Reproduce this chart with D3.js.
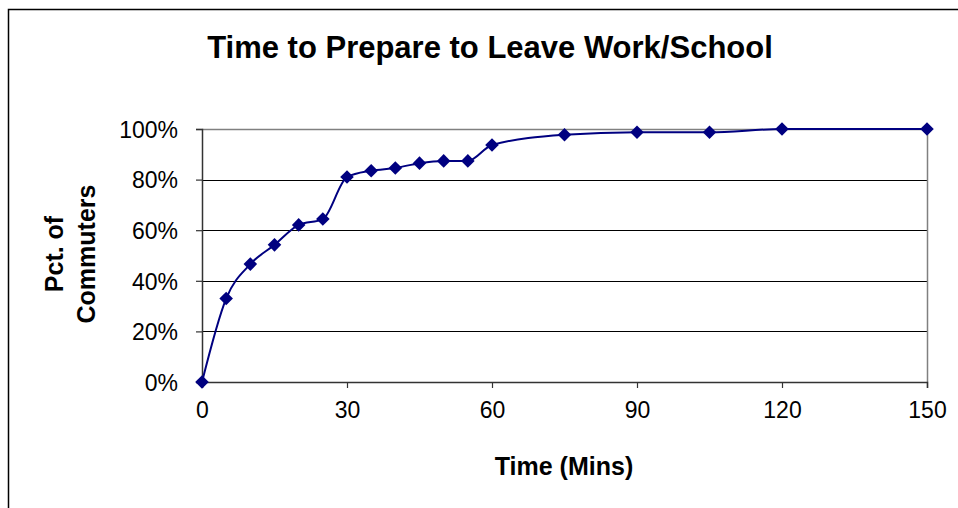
<!DOCTYPE html>
<html>
<head>
  <meta charset="utf-8">
  <script src="https://d3js.org/d3.v7.min.js"></script>
  <title>Time to Prepare to Leave Work/School</title>
  <style>
    body {
      margin: 0px;
      background: #fff;
      font-family: "Liberation Sans", Arial, sans-serif;
    }
  </style>
</head>
<body>
  <svg width="958" height="508"></svg>
  <script>

    //data
    const times = [0, 5, 10, 15, 20, 25, 30, 35, 40, 45, 50, 55, 60, 75, 90, 105, 120, 150];
    const pcts = [0, 0.33, 0.466, 0.542, 0.621, 0.644, 0.81, 0.835, 0.846, 0.865, 0.874, 0.874, 0.937, 0.977, 0.987, 0.987, 1.0, 1.0];
    const xTickValues = [0, 30, 60, 90, 120, 150];
    const yTickValues = [0, 0.2, 0.4, 0.6, 0.8, 1.0];

    const svg = d3.select('svg');

    //outer chart border
    svg.append('rect')
      .attr('x', 8.5)
      .attr('y', 9.5)
      .attr('width', 980)
      .attr('height', 520)
      .attr('fill', 'none')
      .attr('stroke', '#000')
      .attr('stroke-width', 1.5);

    const xScale = d3.scaleLinear().domain([0, 150]).range([202, 927]);
    const yScale = d3.scaleLinear().domain([0, 1]).range([382, 129]);

    //gridlines
    svg.append('g').selectAll('line')
      .data(yTickValues.filter(v => v > 0 && v < 1))
      .enter().append('line')
      .attr('x1', xScale(0))
      .attr('x2', xScale(150))
      .attr('y1', d => Math.round(yScale(d)) + 0.5)
      .attr('y2', d => Math.round(yScale(d)) + 0.5)
      .attr('stroke', '#000')
      .attr('stroke-width', 1);

    //plot area border (top + right)
    svg.append('path')
      .attr('d', `M${xScale(0)},${yScale(1) + 0.5}H${xScale(150) + 0.5}V${yScale(0)}`)
      .attr('fill', 'none')
      .attr('stroke', '#808080')
      .attr('stroke-width', 1.5);

    //axes
    const yAxis = d3.axisLeft(yScale)
      .tickValues(yTickValues)
      .tickSize(6)
      .tickPadding(18)
      .tickFormat(d3.format('.0%'));

    const xAxis = d3.axisBottom(xScale)
      .tickValues(xTickValues)
      .tickSize(6)
      .tickPadding(14);

    const yAxisG = svg.append('g')
      .attr('transform', `translate(${xScale(0)},0)`)
      .call(yAxis);

    const xAxisG = svg.append('g')
      .attr('transform', `translate(0,${yScale(0)})`)
      .call(xAxis);

    [yAxisG, xAxisG].forEach(g => {
      g.selectAll('.domain').attr('stroke', '#333').attr('stroke-width', 1.5);
      g.selectAll('.tick line').attr('stroke', '#333').attr('stroke-width', 1.2);
      g.selectAll('.tick text')
        .attr('fill', '#000')
        .style('font-size', '23px')
        .style('font-family', '"Liberation Sans", Arial, sans-serif');
    });
    yAxisG.selectAll('.tick text').attr('dy', '0.36em');

    //line
    const line = d3.line()
      .x((d, i) => xScale(times[i]))
      .y(d => yScale(d))
      .curve(d3.curveMonotoneX);

    svg.append('path')
      .datum(pcts)
      .attr('d', line)
      .attr('fill', 'none')
      .attr('stroke', '#000080')
      .attr('stroke-width', 2);

    //markers
    svg.append('g').selectAll('path')
      .data(pcts)
      .enter().append('path')
      .attr('d', d3.symbol(d3.symbolSquare, 92))
      .attr('transform', (d, i) => `translate(${xScale(times[i])},${yScale(d)}) rotate(45)`)
      .attr('fill', '#000080');

    //title
    svg.append('text')
      .attr('x', 490)
      .attr('y', 58)
      .attr('text-anchor', 'middle')
      .style('font-size', '31px')
      .style('font-weight', 'bold')
      .text('Time to Prepare to Leave Work/School');

    //x axis label
    svg.append('text')
      .attr('x', 564)
      .attr('y', 475)
      .attr('text-anchor', 'middle')
      .style('font-size', '25px')
      .style('font-weight', 'bold')
      .text('Time (Mins)');

    //y axis label (two lines)
    const yLabel = svg.append('text')
      .attr('transform', 'translate(0,254) rotate(-90)')
      .attr('text-anchor', 'middle')
      .style('font-size', '25px')
      .style('font-weight', 'bold');
    yLabel.append('tspan').attr('x', 0).attr('y', 63).text('Pct. of');
    yLabel.append('tspan').attr('x', 0).attr('y', 95).text('Commuters');

  </script>
</body>
</html>
